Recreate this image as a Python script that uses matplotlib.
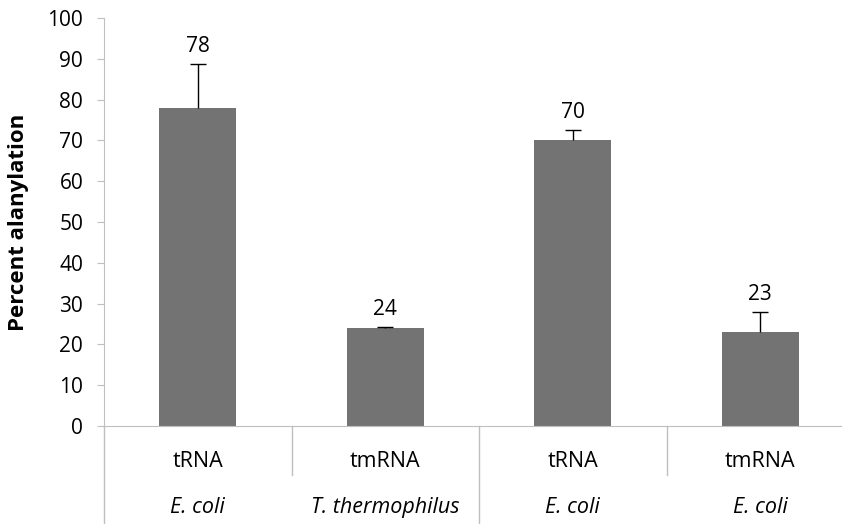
import numpy as np
import matplotlib
matplotlib.use("Agg")
import matplotlib.pyplot as plt
from matplotlib.transforms import blended_transform_factory

# values
rna_types = ["tRNA", "tmRNA", "tRNA", "tmRNA"]
organisms = ["E. coli", "T. thermophilus", "E. coli", "E. coli"]
alanylation = [78, 24, 70, 23]
errors = [10.8, 0.3, 2.5, 5.0]
y_ticks = [0, 10, 20, 30, 40, 50, 60, 70, 80, 90, 100]

plt.rcParams["font.family"] = ["Open Sans", "DejaVu Sans"]

BAR = "#737373"
AXIS = "#bfbfbf"


def main():
    fig = plt.figure(figsize=(8.42, 5.24), dpi=100)
    ax = fig.add_axes([104 / 842, 98 / 524, 750 / 842, 408 / 524])

    x = np.arange(len(alanylation))
    ax.bar(x, alanylation, width=0.41, color=BAR, zorder=2)
    eb = ax.errorbar(x, alanylation, yerr=[np.zeros(len(errors)), errors], fmt="none",
                     ecolor="black", elinewidth=1, capsize=5.5, capthick=1, zorder=3)
    # only the upper cap, like the original
    eb[1][0].set_visible(False)

    for xi, v, e in zip(x, alanylation, errors):
        ax.annotate(f"{v}", (xi, v + e), xytext=(0, 5), textcoords="offset points",
                    ha="center", va="bottom", fontsize=15)

    ax.set_xlim(-0.5, 3.5)
    ax.set_ylim(0, 100)
    ax.set_yticks(y_ticks)
    ax.tick_params(axis="y", length=5, color=AXIS, labelsize=15, pad=10)
    ax.set_xticks([])
    for side in ["top", "right"]:
        ax.spines[side].set_visible(False)
    ax.spines["left"].set_color(AXIS)
    ax.spines["bottom"].set_color(AXIS)
    ax.set_ylabel("Percent alanylation", fontsize=16, fontweight="bold")
    ax.yaxis.set_label_coords(-75 / 750, 0.5)

    # two-level category axis
    trans = blended_transform_factory(ax.transData, ax.transAxes)
    for b in [-0.5, 1.5]:
        ax.plot([b, b], [0, -0.24], color=AXIS, lw=1, transform=trans, clip_on=False)
    for b in [0.5, 2.5]:
        ax.plot([b, b], [0, -0.12], color=AXIS, lw=1, transform=trans, clip_on=False)
    for xi, r, o in zip(x, rna_types, organisms):
        ax.text(xi, -0.086, r, transform=trans, ha="center", va="center", fontsize=15.5)
        ax.text(xi, -0.2, o, transform=trans, ha="center", va="center", fontsize=15.5,
                style="italic")

    fig.savefig("out.png", dpi=100)
    plt.close(fig)


if __name__ == "__main__":
    main()
